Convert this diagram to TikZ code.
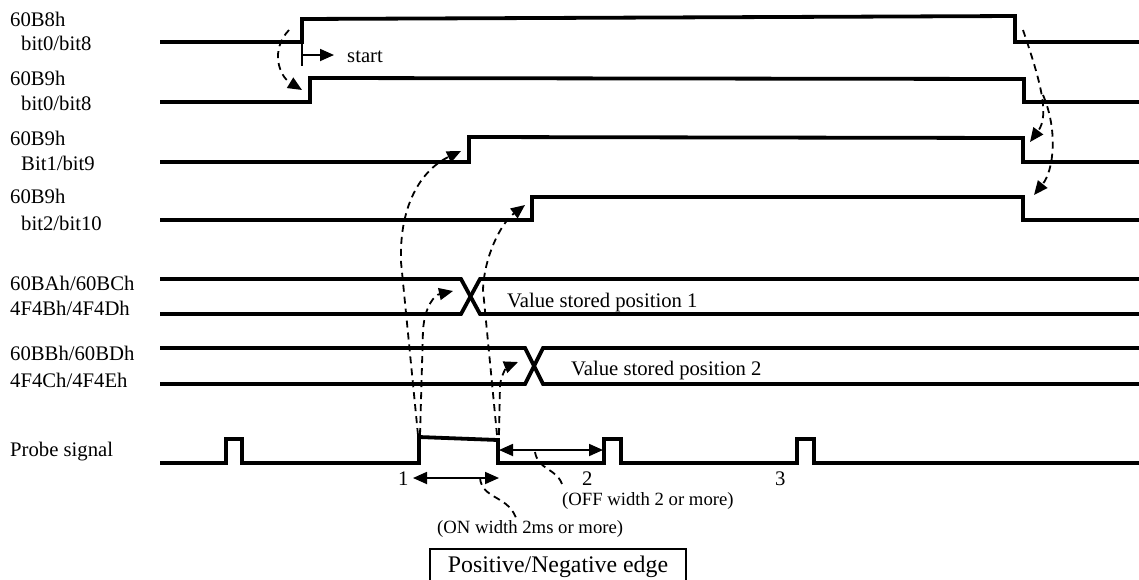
\documentclass[tikz,border=0pt]{standalone}
\usepackage{fontspec}
\setmainfont{Liberation Serif}
\usetikzlibrary{arrows.meta}
\begin{document}
\begin{tikzpicture}[x=1pt,y=-1pt,
  sig/.style={line width=3.8pt},
  lbl/.style={anchor=base west, inner sep=0pt, font=\fontsize{20.7}{24}\selectfont},
  note/.style={anchor=base west, inner sep=0pt, font=\fontsize{18.7}{22}\selectfont},
  dsh/.style={line width=1.8pt, dash pattern=on 7pt off 5pt, -{Triangle[length=14pt,width=12pt]}},
  dshn/.style={line width=1.8pt, dash pattern=on 7pt off 5pt},
  onearr/.style={line width=1.8pt, -{Triangle[length=14pt,width=12pt]}},
  twoarr/.style={line width=1.8pt, {Triangle[length=14pt,width=12pt]}-{Triangle[length=14pt,width=12pt]}}]
\useasboundingbox (0,0) rectangle (1139,579);

% ---- labels ----
\node[lbl] (l1a) at (10,26) {60B8h};
\node[lbl] (l1b) at (21,50) {bit0/bit8};
\node[lbl] (l2a) at (10,85) {60B9h};
\node[lbl] (l2b) at (21,110) {bit0/bit8};
\node[lbl] (l3a) at (10,145) {60B9h};
\node[lbl] (l3b) at (21,170) {Bit1/bit9};
\node[lbl] (l4a) at (10,203) {60B9h};
\node[lbl] (l4b) at (21,230) {bit2/bit10};
\node[lbl] (l5a) at (10,290) {60BAh/60BCh};
\node[lbl] (l5b) at (10,315) {4F4Bh/4F4Dh};
\node[lbl] (l6a) at (10,360) {60BBh/60BDh};
\node[lbl] (l6b) at (10,387) {4F4Ch/4F4Eh};
\node[lbl] (l7) at (10,456) {Probe signal};

% ---- signals ----
\draw[sig] (160,42) -- (302,42) -- (302,19) -- (1015,16) -- (1015,42) -- (1139,42);
\draw[sig] (160,102) -- (310,102) -- (310,78) -- (1024,79) -- (1024,102) -- (1139,102);
\draw[sig] (160,162) -- (469,162) -- (469,137) -- (1023,138) -- (1023,162) -- (1139,162);
\draw[sig] (160,220) -- (532,220) -- (532,197) -- (1023,197) -- (1023,220) -- (1139,220);

\draw[sig] (160,279) -- (461,279) -- (480,314) -- (1139,314);
\draw[sig] (160,314) -- (461,314) -- (480,279) -- (1139,279);
\draw[sig] (160,348) -- (525,348) -- (543,384) -- (1139,384);
\draw[sig] (160,384) -- (525,384) -- (543,348) -- (1139,348);

\draw[sig] (160,463) -- (226,463) -- (226,439) -- (242,439) -- (242,463)
  -- (419,463) -- (419,437) -- (498,440) -- (498,463)
  -- (604,463) -- (604,439) -- (621,439) -- (621,463)
  -- (797,463) -- (797,439) -- (814,439) -- (814,463) -- (1139,463);

% ---- start marker ----
\draw[line width=2pt] (302,42) -- (302,66);
\node[lbl] (start) at (347,62) {start};
\coordinate (startfrom) at (302,55);
\coordinate (startto) at (334,55);
\draw[onearr] (startfrom) -- (startto);

\node[lbl] (vs1) at (507,307) {Value stored position 1};
\node[lbl] (vs2) at (571,375) {Value stored position 2};

% ---- dashed arrows ----
\coordinate (a0) at (289,30);   \coordinate (a1) at (302,90);
\draw[dsh] (a0) .. controls (270,50) and (279,76) .. (a1);

\coordinate (b0) at (1023,30);  \coordinate (b1) at (1030,142);
\draw[dsh] (b0) .. controls (1040,80) and (1050,115) .. (b1);
\coordinate (b2) at (1043,95);  \coordinate (b3) at (1034,195);
\draw[dsh] (b2) .. controls (1058,130) and (1054,170) .. (b3);

\coordinate (c0) at (418,435);  \coordinate (c1) at (461,151);
\draw[dsh] (c0) -- (401,262) .. controls (399,200) and (425,168) .. (c1);
\coordinate (d0) at (420,435);  \coordinate (d1) at (453,291);
\draw[dsh] (d0) -- (423,330) .. controls (425,305) and (435,295) .. (d1);
\coordinate (e0) at (497,435);  \coordinate (e1) at (525,205);
\draw[dsh] (e0) -- (483,290) .. controls (484,258) and (500,224) .. (e1);
\coordinate (f0) at (499,435);  \coordinate (f1) at (518,362);
\draw[dsh] (f0) -- (500,385) .. controls (502,372) and (508,366) .. (f1);

% ---- widths ----
\node[lbl] (n1) at (398,485) {1};
\node[lbl] (n2) at (582,485) {2};
\node[lbl] (n3) at (775,485) {3};
\coordinate (on0) at (413,478); \coordinate (on1) at (499,478);
\draw[twoarr] (on0) -- (on1);
\coordinate (off0) at (499,450); \coordinate (off1) at (603,450);
\draw[twoarr] (off0) -- (off1);

\node[note] (offt) at (562,505) {(OFF width 2 or more)};
\node[note] (ont) at (437,533) {(ON width 2ms or more)};
\coordinate (onp) at (480,478);  \coordinate (onq) at (517,521);
\draw[dshn] (onp) .. controls (482,500) and (510,495) .. (onq);
\coordinate (offp) at (535,452); \coordinate (offq) at (562,484);
\draw[dshn] (offp) .. controls (538,470) and (556,468) .. (offq);

% ---- box ----
\node[draw, line width=2pt, anchor=north west, minimum width=256pt, minimum height=36pt,
  inner sep=0pt, font=\fontsize{23.8}{28}\selectfont] (pn) at (429,548) {Positive/Negative edge};
\end{tikzpicture}
\end{document}
